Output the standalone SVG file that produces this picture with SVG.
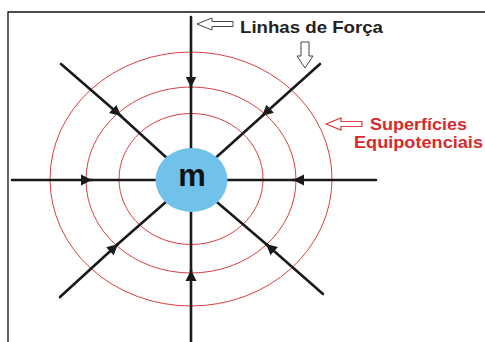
<svg xmlns="http://www.w3.org/2000/svg" width="485" height="342" viewBox="0 0 485 342">
<defs>
<style>
.frame{stroke:#111;stroke-width:1.3;fill:none}
.eq{fill:none;stroke:#d9403f;stroke-width:1}
.fl{stroke:#1a1a1a;stroke-width:2.6;fill:none;stroke-linecap:round}
.hollow{fill:#fff;stroke:#444;stroke-width:1}
.hollowr{fill:#fff;stroke:#d9403f;stroke-width:1.2}
.lbl{font-family:"Liberation Sans",Arial,sans-serif;font-weight:bold;font-size:17px}
</style>
<marker id="ah" markerUnits="userSpaceOnUse" markerWidth="12" markerHeight="12" refX="11" refY="6" orient="auto">
<path d="M0,0.5 L11,6 L0,11.5 Z" fill="#1a1a1a"/>
</marker>
</defs>
<rect width="485" height="342" fill="#fff"/>
<path class="frame" d="M8,342 V12 H485"/>
<g id="equipotentials">
<ellipse class="eq" cx="191" cy="179" rx="141" ry="127"/>
<ellipse class="eq" cx="191" cy="180" rx="105" ry="93"/>
<ellipse class="eq" cx="191" cy="179" rx="72" ry="65.5"/>
</g>
<g id="connectors">
<line class="fl" x1="191" y1="17" x2="191" y2="87.5" marker-end="url(#ah)"/>
<line class="fl" x1="191" y1="85" x2="191" y2="180"/>
<line class="fl" x1="191" y1="342" x2="191" y2="270" marker-end="url(#ah)"/>
<line class="fl" x1="191" y1="273" x2="191" y2="180"/>
<line class="fl" x1="12" y1="180" x2="92" y2="180" marker-end="url(#ah)"/>
<line class="fl" x1="90" y1="180" x2="191" y2="180"/>
<line class="fl" x1="376" y1="180" x2="293" y2="180" marker-end="url(#ah)"/>
<line class="fl" x1="295" y1="180" x2="191" y2="180"/>
<line class="fl" x1="61" y1="64" x2="121" y2="116" marker-end="url(#ah)"/>
<line class="fl" x1="118" y1="113.5" x2="191" y2="180"/>
<line class="fl" x1="320" y1="64" x2="262" y2="116" marker-end="url(#ah)"/>
<line class="fl" x1="265" y1="113.5" x2="191" y2="180"/>
<line class="fl" x1="60" y1="297" x2="118" y2="244" marker-end="url(#ah)"/>
<line class="fl" x1="115" y1="246.5" x2="191" y2="180"/>
<line class="fl" x1="323" y1="294" x2="266" y2="244" marker-end="url(#ah)"/>
<line class="fl" x1="269" y1="246.5" x2="191" y2="180"/>
</g>
<g id="mass">
<ellipse cx="191.5" cy="180" rx="36" ry="32" fill="#72c1eb"/>
<text x="192" y="186" text-anchor="middle" font-family="'Liberation Sans',Arial,sans-serif" font-weight="bold" font-size="31" fill="#111">m</text>
</g>
<g id="label-linhas">
<path class="hollow" d="M197,24 L212,18 L212,21.5 L233,21.5 L233,26.5 L212,26.5 L212,30 Z"/>
<path class="hollow" d="M301,42 L309,42 L309,56 L313,56 L305,68 L297,56 L301,56 Z"/>
<text class="lbl" x="240" y="33" fill="#222" textLength="143" lengthAdjust="spacingAndGlyphs">Linhas de Força</text>
</g>
<g id="label-superficies">
<path class="hollowr" d="M326,124 L341,118 L341,121.5 L362,121.5 L362,126.5 L341,126.5 L341,130 Z"/>
<text class="lbl" x="370" y="130" fill="#d62b2b" textLength="97" lengthAdjust="spacingAndGlyphs">Superfícies</text>
<text class="lbl" x="354" y="148" fill="#d62b2b" textLength="129" lengthAdjust="spacingAndGlyphs">Equipotenciais</text>
</g>
</svg>
